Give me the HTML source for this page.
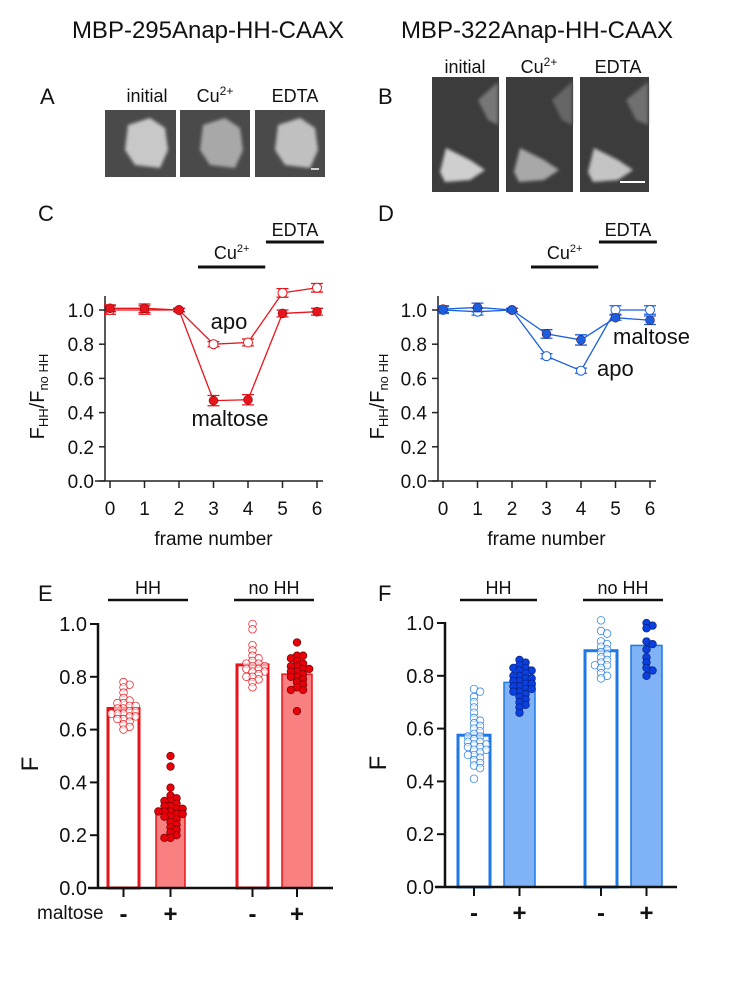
<!DOCTYPE html>
<html><head><meta charset="utf-8"><style>
html,body{margin:0;padding:0;background:#fff;}
svg{display:block;font-family:"Liberation Sans",sans-serif;}
</style></head><body>
<svg id="fig" width="750" height="1000" viewBox="0 0 750 1000">
<defs>
<filter id="blur1"><feGaussianBlur stdDeviation="1.5"/></filter>
</defs>
<g font-size="24" text-anchor="middle" fill="#111">
<text x="208" y="38">MBP-295Anap-HH-CAAX</text>
<text x="537" y="38">MBP-322Anap-HH-CAAX</text>
</g>
<g font-size="22" fill="#111">
<text x="40" y="104">A</text>
<text x="378" y="104">B</text>
<text x="38" y="221">C</text>
<text x="378" y="221">D</text>
<text x="38" y="601">E</text>
<text x="378" y="601">F</text>
</g>
<g font-size="18" text-anchor="middle" fill="#111">
<text x="147" y="102">initial</text>
<text x="215" y="102">Cu<tspan font-size="12" dy="-7">2+</tspan></text>
<text x="295" y="102">EDTA</text>
<g><rect x="105" y="110" width="71" height="67" fill="#4a4a4a"/><path d="M128 125 L150 118 L165 128 L168 150 L160 168 L135 165 L125 150Z" fill="#c8c8c8" filter="url(#blur1)"/></g>
<g><rect x="180" y="110" width="70" height="67" fill="#4a4a4a"/><path d="M203 125 L225 118 L240 128 L243 150 L235 168 L210 165 L200 150Z" fill="#a8a8a8" filter="url(#blur1)"/></g>
<g><rect x="255" y="110" width="70" height="67" fill="#4a4a4a"/><path d="M278 125 L300 118 L315 128 L318 150 L310 168 L285 165 L275 150Z" fill="#c0c0c0" filter="url(#blur1)"/><line x1="311" y1="169" x2="319" y2="169" stroke="#fff" stroke-width="1.5"/></g>
</g>
<g font-size="18" text-anchor="middle" fill="#111">
<text x="465" y="73">initial</text>
<text x="539" y="73">Cu<tspan font-size="12" dy="-7">2+</tspan></text>
<text x="618" y="73">EDTA</text>
<g><rect x="432" y="77" width="67" height="115" fill="#3c3c3c"/><path d="M440 172 L446 148 L470 160 L485 170 L470 180 L445 182Z" fill="#cfcfcf" filter="url(#blur1)"/><path d="M478 100 L498 82 L498 125 L488 120Z" fill="#777" filter="url(#blur1)"/></g>
<g><rect x="506" y="77" width="67" height="115" fill="#3c3c3c"/><path d="M514 172 L520 148 L544 160 L559 170 L544 180 L519 182Z" fill="#a8a8a8" filter="url(#blur1)"/><path d="M552 100 L572 82 L572 125 L562 120Z" fill="#666" filter="url(#blur1)"/></g>
<g><rect x="580" y="77" width="69" height="115" fill="#3c3c3c"/><path d="M588 172 L594 148 L618 160 L633 170 L618 180 L593 182Z" fill="#c4c4c4" filter="url(#blur1)"/><path d="M626 100 L648 82 L648 125 L636 120Z" fill="#707070" filter="url(#blur1)"/><line x1="620" y1="182" x2="645" y2="182" stroke="#fff" stroke-width="2"/></g>
</g>
<g id="charts"></g>
</svg>
<script>
// Panel C data (MBP-295)
const frames = [0,1,2,3,4,5,6];
const cApo = [1.0,1.0,1.0,0.80,0.81,1.10,1.13];
const cApoErr = [0.025,0.025,0.01,0.015,0.02,0.025,0.025];
const cMal = [1.01,1.01,1.0,0.47,0.475,0.98,0.99];
const cMalErr = [0.02,0.025,0.01,0.03,0.03,0.02,0.02];
// Panel D data (MBP-322)
const dApo = [1.0,0.99,1.0,0.73,0.645,1.0,1.0];
const dApoErr = [0.02,0.02,0.01,0.015,0.015,0.025,0.025];
const dMal = [1.005,1.015,1.0,0.86,0.825,0.955,0.94];
const dMalErr = [0.02,0.025,0.01,0.025,0.03,0.015,0.025];
const yTicksLine = [0,0.2,0.4,0.6,0.8,1.0];
const yTickLabelsLine = ["0.0","0.2","0.4","0.6","0.8","1.0"];
// Panel E data
const eBars = [0.68,0.285,0.845,0.81];
const eG1 = [0.78,0.77,0.76,0.74,0.72,0.71,0.70,0.70,0.69,0.69,0.68,0.68,0.67,0.67,0.66,0.66,0.66,0.65,0.65,0.64,0.64,0.63,0.62,0.61,0.60];
const eG2 = [0.50,0.46,0.38,0.35,0.34,0.33,0.33,0.32,0.31,0.31,0.30,0.30,0.29,0.29,0.29,0.28,0.28,0.27,0.27,0.26,0.25,0.24,0.23,0.22,0.21,0.20,0.19,0.19];
const eG3 = [1.00,0.98,0.92,0.90,0.88,0.87,0.86,0.85,0.85,0.84,0.84,0.83,0.83,0.82,0.82,0.81,0.80,0.80,0.79,0.78,0.76];
const eG4 = [0.93,0.88,0.88,0.87,0.86,0.85,0.84,0.84,0.83,0.83,0.82,0.82,0.81,0.80,0.80,0.79,0.78,0.77,0.76,0.75,0.75,0.67];
// Panel F data
const fBars = [0.575,0.775,0.895,0.915];
const fG1 = [0.75,0.74,0.72,0.70,0.68,0.66,0.64,0.63,0.62,0.61,0.60,0.59,0.58,0.57,0.57,0.56,0.55,0.55,0.54,0.54,0.53,0.53,0.52,0.52,0.51,0.50,0.50,0.49,0.48,0.47,0.46,0.45,0.41];
const fG2 = [0.86,0.85,0.84,0.83,0.83,0.82,0.82,0.81,0.80,0.80,0.79,0.79,0.78,0.78,0.77,0.77,0.76,0.76,0.75,0.75,0.74,0.74,0.73,0.72,0.71,0.70,0.69,0.68,0.66];
const fG3 = [1.01,0.97,0.96,0.93,0.92,0.91,0.90,0.89,0.88,0.87,0.86,0.85,0.84,0.84,0.83,0.81,0.80,0.79];
const fG4 = [1.00,0.99,0.98,0.93,0.92,0.90,0.87,0.85,0.83,0.82,0.80];
const barTicks = [0,0.2,0.4,0.6,0.8,1.0];
const barTickLabels = ["0.0","0.2","0.4","0.6","0.8","1.0"];
const barSigns = ["-","+","-","+"];

const NS = "http://www.w3.org/2000/svg";
const root = document.getElementById("charts");
function mk(tag, attrs, parent, txt){
  const e = document.createElementNS(NS, tag);
  for (const k in attrs) e.setAttribute(k, attrs[k]);
  if (txt !== undefined) e.textContent = txt;
  (parent||root).appendChild(e);
  return e;
}

function lineChart(name, ax, color, apo, apoErr, mal, malErr, labels){
  const g = mk("g", {});
  
  
  const X = f => ax.x0 + f*ax.dx;
  const Y = v => ax.y0 - v*ax.sy;
  const yaxis = mk("line", {x1:ax.yx, y1:ax.ytop, x2:ax.yx, y2:ax.y0, stroke:"#222","stroke-width":1.5}, g);
  
  
  const xaxis = mk("line", {x1:ax.yx-10, y1:ax.y0, x2:X(6)+6, y2:ax.y0, stroke:"#222","stroke-width":1.5}, g);
  
  
  yTicksLine.forEach((t,i)=>{
    mk("line",{x1:ax.yx-6,y1:Y(t),x2:ax.yx,y2:Y(t),stroke:"#222","stroke-width":1.5},g);
    const tl = mk("text",{x:ax.yx-11,y:Y(t)+7,"font-size":19,"text-anchor":"end",fill:"#111"},g,yTickLabelsLine[i]);
    
    
  });
  frames.forEach(f=>{
    mk("line",{x1:X(f),y1:ax.y0,x2:X(f),y2:ax.y0+7,stroke:"#222","stroke-width":1.5},g);
    const tl = mk("text",{x:X(f),y:ax.y0+34,"font-size":19,"text-anchor":"middle",fill:"#111"},g,String(f));
    
    
  });
  const xt = mk("text",{x:(X(0)+X(6))/2,y:ax.y0+64,"font-size":19,"text-anchor":"middle",fill:"#111"},g,"frame number");
  
  
  const yt = mk("text",{transform:`translate(${ax.ylx},${(ax.y0+ax.ytop)/2+8}) rotate(-90)`,"font-size":20,"text-anchor":"middle",fill:"#111"},g);
  yt.innerHTML = 'F<tspan font-size="13" dy="4">HH</tspan><tspan dy="-4">/F</tspan><tspan font-size="13" dy="4">no HH</tspan>';
  
  
  const cu = mk("line",{x1:X(2.55),y1:ax.cuY,x2:X(4.5),y2:ax.cuY,stroke:"#111","stroke-width":3},g);
  
  
  const cut = mk("text",{x:(X(2.55)+X(4.5))/2,y:ax.cuY-8,"font-size":18,"text-anchor":"middle",fill:"#111"},g);
  cut.innerHTML = 'Cu<tspan font-size="11" dy="-7">2+</tspan>';
  
  
  const ed = mk("line",{x1:X(4.52),y1:ax.edY,x2:X(6.2),y2:ax.edY,stroke:"#111","stroke-width":3},g);
  
  
  const edt = mk("text",{x:(X(4.52)+X(6.2))/2,y:ax.edY-6,"font-size":18,"text-anchor":"middle",fill:"#111"},g,"EDTA");
  
  
  [[apo,apoErr,"#fff","apo"],[mal,malErr,color,"maltose"]].forEach(([vals,errs,fill,sname])=>{
    const sg = mk("g",{},g);
    
    
    const pts = vals.map((v,i)=>X(frames[i])+","+Y(v)).join(" ");
    const pl = mk("polyline",{points:pts,fill:"none",stroke:color,"stroke-width":1.3},sg);
    
    
    vals.forEach((v,i)=>{
      const x=X(frames[i]), y1=Y(v+errs[i]), y2=Y(v-errs[i]);
      const eb = mk("path",{d:`M${x} ${y1}V${y2}M${x-6} ${y1}H${x+6}M${x-6} ${y2}H${x+6}`,stroke:color,"stroke-width":1.3,fill:"none"},sg);
      
      
      const c = mk("circle",{cx:x,cy:Y(v),r:4.5,fill:fill,stroke:fill==="#fff"?color:"#600","stroke-width":fill==="#fff"?1:0.5},sg);
      
      
    });
  });
  labels.forEach(l=>{
    const t = mk("text",{x:l.x,y:l.y,"font-size":22,"text-anchor":l.a,fill:"#111"},g,l.t);
    
    
  });
}

lineChart("panel-c-chart",{x0:110,dx:34.5,y0:481,sy:171,yx:105,ytop:296,ylx:44,cuY:267,edY:242},"#e8141b",
  cApo,cApoErr,cMal,cMalErr,[{t:"apo",x:229,y:329,a:"middle"},{t:"maltose",x:230,y:426,a:"middle"}]);
lineChart("panel-d-chart",{x0:443,dx:34.5,y0:481,sy:171,yx:438,ytop:296,ylx:384,cuY:267,edY:242},"#1a5fe0",
  dApo,dApoErr,dMal,dMalErr,[{t:"maltose",x:613,y:344,a:"start"},{t:"apo",x:597,y:376,a:"start"}]);

function swarm(vals, cx, Y, r, maxOff){
  const placed=[];
  return vals.map(v=>{
    const y=Y(v); let best=cx;
    for(let k=0;k<30;k++){
      const off = (k===0?0:(k%2?1:-1)*Math.ceil(k/2)*r*0.8);
      if(Math.abs(off)>maxOff){best=cx+(k%2?maxOff:-maxOff);break;}
      const x=cx+off;
      if(placed.every(p=>Math.hypot(p[0]-x,p[1]-y)>=r*1.3)){best=x;break;}
    }
    placed.push([best,y]); return [best,y];
  });
}

function barChart(name, ax, c){
  const g = mk("g", {});
  
  
  const Y = v => ax.y0 - v*ax.sy;
  const yaxis = mk("line",{x1:ax.yx,y1:Y(1.0)-1,x2:ax.yx,y2:ax.y0,stroke:"#111","stroke-width":2.5},g);
  
  
  barTicks.forEach((t,i)=>{
    mk("line",{x1:ax.yx-8,y1:Y(t),x2:ax.yx,y2:Y(t),stroke:"#111","stroke-width":2},g);
    const tl = mk("text",{x:ax.yx-11,y:Y(t)+7,"font-size":20,"text-anchor":"end",fill:"#111"},g,barTickLabels[i]);
    
    
  });
  const yt = mk("text",{transform:`translate(${ax.ylx},${(ax.y0+Y(1))/2+8}) rotate(-90)`,"font-size":24,"text-anchor":"middle",fill:"#111"},g,"F");
  
  
  ax.groups.forEach((grp,i)=>{
    const [x0,x1]=ax.bx[i];
    const open = i%2===0;
    const b = mk("rect",{x:x0,y:Y(ax.bars[i]),width:x1-x0,height:ax.y0-Y(ax.bars[i]),fill:open?"#fff":c.fill,stroke:c.line,"stroke-width":open?3:1.5},g);
    
    
    const pos = swarm(grp,(x0+x1)/2,Y,3.8,14);
    pos.forEach(p=>{
      const d = mk("circle",{cx:p[0],cy:p[1],r:3.8,fill:open?"#fff":c.dot,"fill-opacity":open?0.6:1,stroke:open?c.line:c.dotEdge,"stroke-width":0.7},g);
      
      
    });
    const cx=(x0+x1)/2;
    mk("line",{x1:cx,y1:ax.y0,x2:cx,y2:ax.y0+9,stroke:"#111","stroke-width":2},g);
    const s = mk("text",{x:cx,y:ax.y0+34,"font-size":24,"font-weight":"bold","text-anchor":"middle",fill:"#111"},g,barSigns[i]);
    
    
  });
  const xaxis = mk("line",{x1:ax.yx-10,y1:ax.y0,x2:ax.xend,y2:ax.y0,stroke:"#111","stroke-width":2.5},g);
  
  
  [["HH",ax.hh],["no HH",ax.nohh]].forEach(([t,r])=>{
    const l = mk("line",{x1:r[0],y1:600,x2:r[1],y2:600,stroke:"#111","stroke-width":2.5},g);
    
    
    const tt = mk("text",{x:(r[0]+r[1])/2,y:594,"font-size":18,"text-anchor":"middle",fill:"#111"},g,t);
    
    
  });
  return g;
}

const eg = barChart("panel-e-chart",{y0:888,sy:264,yx:98,ylx:38,xend:333,
  bx:[[108,139],[156,185],[237,268],[282,312]],bars:eBars,groups:[eG1,eG2,eG3,eG4],hh:[108,188],nohh:[234,314]},
  {line:"#e8141b",fill:"#f98080",dot:"#e8000a",dotEdge:"#700"});
const mt = mk("text",{x:37,y:919,"font-size":19,fill:"#111"},eg,"maltose");


barChart("panel-f-chart",{y0:887,sy:264,yx:445,ylx:386,xend:677,
  bx:[[458,490],[504,535],[585,617],[631,662]],bars:fBars,groups:[fG1,fG2,fG3,fG4],hh:[460,537],nohh:[583,663]},
  {line:"#1e78e6",fill:"#80b3f6",dot:"#0a40dd",dotEdge:"#0a2080"});
</script>
</body></html>
